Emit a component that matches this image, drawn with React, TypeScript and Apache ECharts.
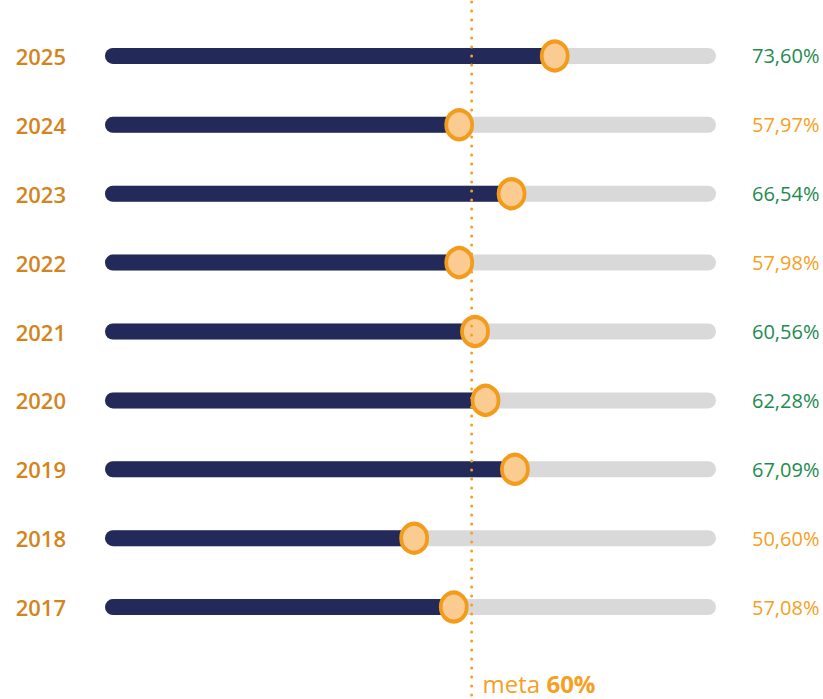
import React, { useEffect, useRef } from "react";
import * as echarts from "echarts";

const years = ["2025", "2024", "2023", "2022", "2021", "2020", "2019", "2018", "2017"];
const values = [73.6, 57.97, 66.54, 57.98, 60.56, 62.28, 67.09, 50.6, 57.08];
const goal = 60;
const trackMax = 100;

const fmt = (v: number) => v.toFixed(2).replace(".", ",") + "%";

export default function App() {
  const ref = useRef<HTMLDivElement>(null);
  useEffect(() => {
    document.body.style.margin = "0";
    const chart = echarts.init(ref.current!, null, { renderer: "svg" });
    const font = "'Open Sans', 'Noto Sans', sans-serif";
    chart.setOption({
      animation: false,
      grid: { left: 105, right: 107, top: 21.5, bottom: 57.5 },
      xAxis: { type: "value", min: 0, max: trackMax, show: false },
      yAxis: [
        {
          type: "category",
          data: years,
          inverse: true,
          axisLine: { show: false },
          axisTick: { show: false },
          axisLabel: {
            margin: 39,
            color: "#D4841C",
            fontSize: 22,
            fontWeight: 600,
            fontFamily: font,
          },
        },
        {
          type: "category",
          data: years,
          inverse: true,
          position: "right",
          axisLine: { show: false },
          axisTick: { show: false },
          axisLabel: {
            margin: 36,
            align: "left",
            fontFamily: font,
            formatter: (_v: string, i: number) =>
              values[i] >= goal ? `{g|${fmt(values[i])}}` : `{o|${fmt(values[i])}}`,
            rich: {
              g: { color: "#1E8B4F", fontSize: 20, fontFamily: font },
              o: { color: "#F5A023", fontSize: 20, fontFamily: font },
            },
          },
        },
      ],
      series: [
        {
          type: "bar",
          data: years.map(() => trackMax),
          barWidth: 16,
          barGap: "-100%",
          itemStyle: { color: "#D9D9D9", borderRadius: 8 },
          silent: true,
        },
        {
          type: "bar",
          data: values,
          barWidth: 16,
          barGap: "-100%",
          itemStyle: { color: "#232A5A", borderRadius: 8 },
          silent: true,
        },
        {
          type: "scatter",
          data: values.map((v, i) => [v, years[i]]),
          symbol: "circle",
          symbolSize: [26, 29],
          itemStyle: { color: "#FBCC92", borderColor: "#F39C1C", borderWidth: 4, opacity: 1 },
          z: 5,
        },
      ],
    });
    const gx = chart.convertToPixel({ xAxisIndex: 0 }, goal) as number;
    const h = chart.getHeight();
    chart.setOption({
      graphic: [
        {
          type: "line",
          shape: { x1: gx, y1: 2, x2: gx, y2: h },
          style: { stroke: "#F5A023", lineWidth: 3, lineDash: [0, 9], lineCap: "round" },
          z: 10,
        },
        {
          type: "text",
          x: gx + 11,
          y: h - 16,
          style: {
            text: "{r|meta }{b|60%}",
            verticalAlign: "middle",
            rich: {
              r: { fill: "#F5A023", fontSize: 24, lineHeight: 24, fontFamily: font },
              b: { fill: "#F5A023", fontSize: 24, lineHeight: 24, fontWeight: 700, fontFamily: font },
            },
          },
          z: 10,
        },
      ],
    });
    return () => chart.dispose();
  }, []);
  return <div ref={ref} style={{ width: 823, height: 699 }} />;
}
